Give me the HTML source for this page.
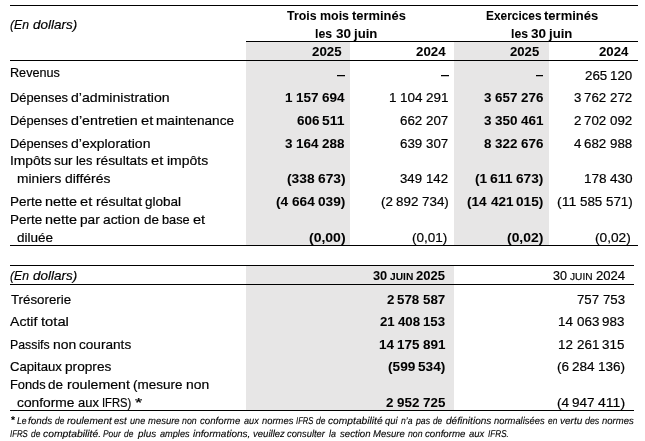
<!DOCTYPE html><html><head><meta charset="utf-8"><title>Tableau</title><style>
html,body{margin:0;padding:0;background:#fff;}
html{width:645px;height:441px;overflow:hidden;}
body{will-change:transform;}
body{width:645px;height:441px;position:relative;overflow:hidden;font-family:"Liberation Sans",sans-serif;color:#000;}
.g{position:absolute;background:#e7e6e6;}
.l{position:absolute;background:#000;height:1px;}
.t{position:absolute;white-space:pre;font-size:13.5px;line-height:16px;height:16px;transform-origin:0 50%;}
.t{-webkit-text-stroke:0.2px #000;word-spacing:-0.4px;}
.b{font-weight:bold;-webkit-text-stroke:0.05px #000}.i{font-style:italic}
#w{position:absolute;left:0;top:0;width:645px;height:441px;overflow:hidden;}
</style></head><body><div id="w">
<div class="g" style="left:246px;top:42px;width:104px;height:203px"></div>
<div class="g" style="left:454px;top:42px;width:95px;height:203px"></div>
<div class="g" style="left:246px;top:266px;width:208px;height:144px"></div>
<div class="l" style="left:10px;top:5px;width:628px"></div>
<div class="l" style="left:246px;top:41px;width:392px"></div>
<div class="l" style="left:10px;top:60px;width:628px"></div>
<div class="l" style="left:10px;top:245px;width:628px"></div>
<div class="l" style="left:10px;top:265px;width:624px"></div>
<div class="l" style="left:10px;top:284px;width:624px"></div>
<div class="l" style="left:10px;top:410px;width:624px"></div>
<div class="l" style="left:336.9px;top:75px;width:8.2px"></div><div class="l" style="left:336.9px;top:76px;width:8.2px;opacity:.25"></div>
<div class="l" style="left:440.9px;top:75px;width:8.1px"></div><div class="l" style="left:440.9px;top:76px;width:8.1px;opacity:.25"></div>
<div class="l" style="left:535.6px;top:75px;width:7.8px"></div><div class="l" style="left:535.6px;top:76px;width:7.8px;opacity:.25"></div>
<div class="t i" style="left:10.46px;top:17px;transform:scaleX(0.9028);">(En</div>
<div class="t i" style="left:32.72px;top:17px;transform:scaleX(0.9964);">dollars)</div>
<div class="t b" style="left:287.15px;top:8px;transform:scaleX(0.9165);">Trois</div>
<div class="t b" style="left:320.01px;top:8px;transform:scaleX(0.9212);">mois</div>
<div class="t b" style="left:352.33px;top:8px;transform:scaleX(0.9568);">terminés</div>
<div class="t b" style="left:315.09px;top:26px;transform:scaleX(0.9083);">les</div>
<div class="t b" style="left:335.50px;top:26px;transform:scaleX(1.0017);">30</div>
<div class="t b" style="left:353.92px;top:26px;transform:scaleX(0.9749);">juin</div>
<div class="t b" style="left:485.60px;top:8px;transform:scaleX(0.8803);">Exercices</div>
<div class="t b" style="left:544.43px;top:8px;transform:scaleX(0.9641);">terminés</div>
<div class="t b" style="left:510.59px;top:26px;transform:scaleX(0.9067);">les</div>
<div class="t b" style="left:530.97px;top:26px;">30</div>
<div class="t b" style="left:549.35px;top:26px;transform:scaleX(0.9733);">juin</div>
<div class="t b" style="left:311.54px;top:44px;transform:scaleX(0.9866);">2025</div>
<div class="t b" style="left:415.64px;top:44px;transform:scaleX(0.9831);">2024</div>
<div class="t b" style="left:510.35px;top:44px;transform:scaleX(0.9727);">2025</div>
<div class="t b" style="left:599.15px;top:44px;transform:scaleX(0.9796);">2024</div>
<div class="t" style="left:9.51px;top:65px;transform:scaleX(0.9357);">Revenus</div>
<div class="t" style="left:9.50px;top:90px;transform:scaleX(0.9537);">Dépenses</div>
<div class="t" style="left:70.81px;top:90px;transform:scaleX(1.0434);">d’administration</div>
<div class="t" style="left:9.50px;top:113px;transform:scaleX(0.9527);">Dépenses</div>
<div class="t" style="left:70.74px;top:113px;transform:scaleX(1.0578);">d’entretien</div>
<div class="t" style="left:140.76px;top:113px;transform:scaleX(1.0861);">et</div>
<div class="t" style="left:156.31px;top:113px;transform:scaleX(1.0105);">maintenance</div>
<div class="t" style="left:9.50px;top:136px;transform:scaleX(0.9530);">Dépenses</div>
<div class="t" style="left:70.76px;top:136px;transform:scaleX(1.0376);">d’exploration</div>
<div class="t" style="left:9.50px;top:153px;transform:scaleX(1.0241);">Impôts</div>
<div class="t" style="left:54.31px;top:153px;transform:scaleX(0.9886);">sur</div>
<div class="t" style="left:76.18px;top:153px;transform:scaleX(0.9497);">les</div>
<div class="t" style="left:95.89px;top:153px;transform:scaleX(1.0150);">résultats</div>
<div class="t" style="left:151.00px;top:153px;transform:scaleX(1.0837);">et</div>
<div class="t" style="left:166.52px;top:153px;transform:scaleX(1.0352);">impôts</div>
<div class="t" style="left:17.00px;top:171px;transform:scaleX(1.0181);">miniers</div>
<div class="t" style="left:64.62px;top:171px;transform:scaleX(1.0327);">différés</div>
<div class="t" style="left:9.50px;top:194px;transform:scaleX(0.9973);">Perte</div>
<div class="t" style="left:45.01px;top:194px;transform:scaleX(1.0696);">nette</div>
<div class="t" style="left:80.45px;top:194px;transform:scaleX(1.0837);">et</div>
<div class="t" style="left:95.97px;top:194px;transform:scaleX(1.0403);">résultat</div>
<div class="t" style="left:145.35px;top:194px;transform:scaleX(1.0018);">global</div>
<div class="t" style="left:9.50px;top:212px;transform:scaleX(0.9949);">Perte</div>
<div class="t" style="left:44.93px;top:212px;transform:scaleX(1.0671);">nette</div>
<div class="t" style="left:80.28px;top:212px;transform:scaleX(1.0143);">par</div>
<div class="t" style="left:103.38px;top:212px;transform:scaleX(1.0228);">action</div>
<div class="t" style="left:143.54px;top:212px;transform:scaleX(0.9956);">de</div>
<div class="t" style="left:161.81px;top:212px;transform:scaleX(0.9458);">base</div>
<div class="t" style="left:192.82px;top:212px;transform:scaleX(1.0811);">et</div>
<div class="t" style="left:17.45px;top:230px;transform:scaleX(0.9998);">diluée</div>
<div class="t" style="left:584.64px;top:68px;transform:scaleX(0.9883);">265</div>
<div class="t" style="left:610.22px;top:68px;transform:scaleX(0.9883);">120</div>
<div class="t b" style="left:285.22px;top:90px;transform:scaleX(0.9985);">1</div>
<div class="t b" style="left:296.07px;top:90px;transform:scaleX(0.9992);">157</div>
<div class="t b" style="left:321.93px;top:90px;transform:scaleX(0.9992);">694</div>
<div class="t" style="left:389.47px;top:90px;transform:scaleX(0.9975);">1</div>
<div class="t" style="left:400.31px;top:90px;transform:scaleX(0.9982);">104</div>
<div class="t" style="left:426.14px;top:90px;transform:scaleX(0.9982);">291</div>
<div class="t b" style="left:484.44px;top:90px;transform:scaleX(0.9905);">3</div>
<div class="t b" style="left:495.20px;top:90px;transform:scaleX(0.9912);">657</div>
<div class="t b" style="left:520.86px;top:90px;transform:scaleX(0.9912);">276</div>
<div class="t" style="left:573.64px;top:90px;transform:scaleX(0.9819);">3</div>
<div class="t" style="left:584.32px;top:90px;transform:scaleX(0.9825);">762</div>
<div class="t" style="left:609.74px;top:90px;transform:scaleX(0.9825);">272</div>
<div class="t b" style="left:296.64px;top:113px;transform:scaleX(0.9966);">606</div>
<div class="t b" style="left:322.43px;top:113px;transform:scaleX(1.0309);">511</div>
<div class="t" style="left:400.39px;top:113px;transform:scaleX(0.9872);">662</div>
<div class="t" style="left:425.94px;top:113px;transform:scaleX(0.9872);">207</div>
<div class="t b" style="left:484.43px;top:113px;transform:scaleX(0.9981);">3</div>
<div class="t b" style="left:495.28px;top:113px;transform:scaleX(0.9988);">350</div>
<div class="t b" style="left:521.13px;top:113px;transform:scaleX(0.9988);">461</div>
<div class="t" style="left:573.64px;top:113px;transform:scaleX(0.9870);">2</div>
<div class="t" style="left:584.37px;top:113px;transform:scaleX(0.9877);">702</div>
<div class="t" style="left:609.93px;top:113px;transform:scaleX(0.9877);">092</div>
<div class="t b" style="left:285.39px;top:136px;transform:scaleX(0.9956);">3</div>
<div class="t b" style="left:296.21px;top:136px;transform:scaleX(0.9963);">164</div>
<div class="t b" style="left:321.99px;top:136px;transform:scaleX(0.9963);">288</div>
<div class="t" style="left:400.39px;top:136px;transform:scaleX(0.9872);">639</div>
<div class="t" style="left:425.94px;top:136px;transform:scaleX(0.9872);">307</div>
<div class="t b" style="left:484.44px;top:136px;transform:scaleX(0.9905);">8</div>
<div class="t b" style="left:495.20px;top:136px;transform:scaleX(0.9912);">322</div>
<div class="t b" style="left:520.86px;top:136px;transform:scaleX(0.9912);">676</div>
<div class="t" style="left:573.64px;top:136px;transform:scaleX(0.9870);">4</div>
<div class="t" style="left:584.37px;top:136px;transform:scaleX(0.9877);">682</div>
<div class="t" style="left:609.93px;top:136px;transform:scaleX(0.9877);">988</div>
<div class="t b" style="left:286.67px;top:171px;transform:scaleX(1.0202);">(338</div>
<div class="t b" style="left:317.65px;top:171px;transform:scaleX(1.0202);">673)</div>
<div class="t" style="left:400.40px;top:171px;transform:scaleX(0.9766);">349</div>
<div class="t" style="left:425.67px;top:171px;transform:scaleX(0.9766);">142</div>
<div class="t b" style="left:474.93px;top:171px;transform:scaleX(1.0137);">(1</div>
<div class="t b" style="left:490.48px;top:171px;transform:scaleX(1.0384);">611</div>
<div class="t b" style="left:516.46px;top:171px;transform:scaleX(1.0084);">673)</div>
<div class="t" style="left:583.96px;top:171px;transform:scaleX(1.0068);">178</div>
<div class="t" style="left:610.01px;top:171px;transform:scaleX(1.0068);">430</div>
<div class="t b" style="left:276.18px;top:194px;transform:scaleX(1.0175);">(4</div>
<div class="t b" style="left:291.78px;top:194px;transform:scaleX(1.0076);">664</div>
<div class="t b" style="left:317.86px;top:194px;transform:scaleX(1.0122);">039)</div>
<div class="t" style="left:380.95px;top:194px;transform:scaleX(0.9916);">(2</div>
<div class="t" style="left:396.19px;top:194px;transform:scaleX(0.9926);">892</div>
<div class="t" style="left:421.88px;top:194px;transform:scaleX(0.9924);">734)</div>
<div class="t b" style="left:467.43px;top:194px;transform:scaleX(1.0099);">(14</div>
<div class="t b" style="left:490.50px;top:194px;transform:scaleX(1.0033);">421</div>
<div class="t b" style="left:516.47px;top:194px;transform:scaleX(1.0079);">015)</div>
<div class="t" style="left:557.45px;top:194px;transform:scaleX(1.0432);">(11</div>
<div class="t" style="left:580.08px;top:194px;transform:scaleX(0.9898);">585</div>
<div class="t" style="left:605.70px;top:194px;transform:scaleX(0.9896);">571)</div>
<div class="t b" style="left:308.66px;top:230px;transform:scaleX(1.0369);">(0,00)</div>
<div class="t" style="left:411.69px;top:230px;transform:scaleX(0.9999);">(0,01)</div>
<div class="t b" style="left:507.42px;top:230px;transform:scaleX(1.0294);">(0,02)</div>
<div class="t" style="left:595.42px;top:230px;transform:scaleX(1.0150);">(0,02)</div>
<div class="t i" style="left:10.46px;top:268px;transform:scaleX(0.9028);">(En</div>
<div class="t i" style="left:32.72px;top:268px;transform:scaleX(0.9964);">dollars)</div>
<div class="t" style="left:10.86px;top:292px;transform:scaleX(0.9837);">Trésorerie</div>
<div class="t" style="left:10.15px;top:314px;transform:scaleX(1.0419);">Actif</div>
<div class="t" style="left:40.82px;top:314px;transform:scaleX(1.0917);">total</div>
<div class="t" style="left:9.50px;top:337px;transform:scaleX(0.9122);">Passifs</div>
<div class="t" style="left:52.51px;top:337px;transform:scaleX(1.0283);">non</div>
<div class="t" style="left:79.00px;top:337px;transform:scaleX(1.0079);">courants</div>
<div class="t" style="left:9.84px;top:359px;transform:scaleX(0.9722);">Capitaux</div>
<div class="t" style="left:64.97px;top:359px;transform:scaleX(1.0117);">propres</div>
<div class="t" style="left:9.50px;top:377px;transform:scaleX(0.9501);">Fonds</div>
<div class="t" style="left:48.48px;top:377px;transform:scaleX(0.9992);">de</div>
<div class="t" style="left:66.81px;top:377px;transform:scaleX(1.0477);">roulement</div>
<div class="t" style="left:133.05px;top:377px;transform:scaleX(0.9970);">(mesure</div>
<div class="t" style="left:185.73px;top:377px;transform:scaleX(1.0283);">non</div>
<div class="t" style="left:17.05px;top:395px;transform:scaleX(1.0204);">conforme</div>
<div class="t" style="left:77.76px;top:395px;transform:scaleX(0.9587);">aux</div>
<div class="t" style="left:101.92px;top:395px;transform:scaleX(0.8313);">IFRS)</div>
<div class="t" style="left:134.51px;top:395px;transform:scaleX(1.3740);">*</div>
<div class="t b" style="left:386.64px;top:292px;transform:scaleX(0.9870);">2</div>
<div class="t b" style="left:397.37px;top:292px;transform:scaleX(0.9877);">578</div>
<div class="t b" style="left:422.93px;top:292px;transform:scaleX(0.9877);">587</div>
<div class="t" style="left:577.15px;top:292px;transform:scaleX(0.9819);">757</div>
<div class="t" style="left:602.56px;top:292px;transform:scaleX(0.9819);">753</div>
<div class="t b" style="left:379.65px;top:314px;transform:scaleX(0.9806);">21</div>
<div class="t b" style="left:397.67px;top:314px;transform:scaleX(0.9813);">408</div>
<div class="t b" style="left:423.07px;top:314px;transform:scaleX(0.9813);">153</div>
<div class="t" style="left:558.48px;top:314px;transform:scaleX(0.9907);">14</div>
<div class="t" style="left:576.69px;top:314px;transform:scaleX(0.9914);">063</div>
<div class="t" style="left:602.35px;top:314px;transform:scaleX(0.9914);">983</div>
<div class="t b" style="left:378.97px;top:337px;transform:scaleX(0.9976);">14</div>
<div class="t b" style="left:397.31px;top:337px;transform:scaleX(0.9983);">175</div>
<div class="t b" style="left:423.14px;top:337px;transform:scaleX(0.9983);">891</div>
<div class="t" style="left:558.48px;top:337px;transform:scaleX(0.9907);">12</div>
<div class="t" style="left:576.69px;top:337px;transform:scaleX(0.9914);">261</div>
<div class="t" style="left:602.35px;top:337px;transform:scaleX(0.9914);">315</div>
<div class="t b" style="left:387.78px;top:359px;transform:scaleX(1.0112);">(599</div>
<div class="t b" style="left:418.49px;top:359px;transform:scaleX(1.0112);">534)</div>
<div class="t" style="left:556.88px;top:359px;transform:scaleX(1.0030);">(6</div>
<div class="t" style="left:572.30px;top:359px;transform:scaleX(1.0040);">284</div>
<div class="t" style="left:598.28px;top:359px;transform:scaleX(1.0037);">136)</div>
<div class="t b" style="left:386.44px;top:395px;transform:scaleX(0.9905);">2</div>
<div class="t b" style="left:397.20px;top:395px;transform:scaleX(0.9912);">952</div>
<div class="t b" style="left:422.86px;top:395px;transform:scaleX(0.9912);">725</div>
<div class="t" style="left:556.88px;top:395px;transform:scaleX(1.0030);">(4</div>
<div class="t" style="left:572.30px;top:395px;transform:scaleX(1.0040);">947</div>
<div class="t" style="left:598.28px;top:395px;transform:scaleX(1.0423);">411)</div>
<div class="t b" style="left:372.66px;top:268px;transform:scaleX(0.9474);">30</div>
<div class="t b" style="left:389.95px;top:270px;font-size:10.2px;text-rendering:geometricPrecision;transform:scaleX(1.0022);">JUIN</div>
<div class="t b" style="left:415.72px;top:268px;transform:scaleX(0.9641);">2025</div>
<div class="t" style="left:552.74px;top:268px;transform:scaleX(0.9286);">30</div>
<div class="t" style="left:570.20px;top:270px;font-size:10.2px;text-rendering:geometricPrecision;transform:scaleX(0.9955);">JUIN</div>
<div class="t" style="left:595.71px;top:268px;transform:scaleX(0.9709);">2024</div>
<div class="t b" style="left:10.50px;top:413px;font-size:9.9px;-webkit-text-stroke:0.12px #000;text-rendering:geometricPrecision;transform:scaleX(1.0500);">*</div>
<div class="t i" style="left:17.38px;top:414px;font-size:9.9px;-webkit-text-stroke:0.12px #000;text-rendering:geometricPrecision;transform:scaleX(0.8762);">Le</div>
<div class="t i" style="left:28.25px;top:414px;font-size:9.9px;-webkit-text-stroke:0.12px #000;text-rendering:geometricPrecision;transform:scaleX(1.0021);">fonds</div>
<div class="t i" style="left:54.99px;top:414px;font-size:9.9px;-webkit-text-stroke:0.12px #000;text-rendering:geometricPrecision;transform:scaleX(0.8476);">de</div>
<div class="t i" style="left:67.00px;top:414px;font-size:9.9px;-webkit-text-stroke:0.12px #000;text-rendering:geometricPrecision;transform:scaleX(1.0215);">roulement</div>
<div class="t i" style="left:114.46px;top:414px;font-size:9.9px;-webkit-text-stroke:0.12px #000;text-rendering:geometricPrecision;transform:scaleX(0.9509);">est</div>
<div class="t i" style="left:129.67px;top:414px;font-size:9.9px;-webkit-text-stroke:0.12px #000;text-rendering:geometricPrecision;transform:scaleX(0.9250);">une</div>
<div class="t i" style="left:147.60px;top:414px;font-size:9.9px;-webkit-text-stroke:0.12px #000;text-rendering:geometricPrecision;transform:scaleX(0.9588);">mesure</div>
<div class="t i" style="left:182.30px;top:414px;font-size:9.9px;-webkit-text-stroke:0.12px #000;text-rendering:geometricPrecision;transform:scaleX(0.8923);">non</div>
<div class="t i" style="left:200.06px;top:414px;font-size:9.9px;-webkit-text-stroke:0.12px #000;text-rendering:geometricPrecision;transform:scaleX(0.9791);">conforme</div>
<div class="t i" style="left:243.77px;top:414px;font-size:9.9px;-webkit-text-stroke:0.12px #000;text-rendering:geometricPrecision;transform:scaleX(0.9250);">aux</div>
<div class="t i" style="left:261.70px;top:414px;font-size:9.9px;-webkit-text-stroke:0.12px #000;text-rendering:geometricPrecision;transform:scaleX(0.9527);">normes</div>
<div class="t i" style="left:295.91px;top:414px;font-size:9.9px;-webkit-text-stroke:0.12px #000;text-rendering:geometricPrecision;transform:scaleX(0.7775);">IFRS</div>
<div class="t i" style="left:316.29px;top:414px;font-size:9.9px;-webkit-text-stroke:0.12px #000;text-rendering:geometricPrecision;transform:scaleX(0.8476);">de</div>
<div class="t i" style="left:328.34px;top:414px;font-size:9.9px;-webkit-text-stroke:0.12px #000;text-rendering:geometricPrecision;transform:scaleX(1.0373);">comptabilité</div>
<div class="t i" style="left:385.46px;top:414px;font-size:9.9px;-webkit-text-stroke:0.12px #000;text-rendering:geometricPrecision;transform:scaleX(0.9509);">qui</div>
<div class="t i" style="left:401.10px;top:414px;font-size:9.9px;-webkit-text-stroke:0.12px #000;text-rendering:geometricPrecision;transform:scaleX(0.8769);">n’a</div>
<div class="t i" style="left:416.22px;top:414px;font-size:9.9px;-webkit-text-stroke:0.12px #000;text-rendering:geometricPrecision;transform:scaleX(0.8875);">pas</div>
<div class="t i" style="left:433.19px;top:414px;font-size:9.9px;-webkit-text-stroke:0.12px #000;text-rendering:geometricPrecision;transform:scaleX(0.8381);">de</div>
<div class="t i" style="left:445.74px;top:414px;font-size:9.9px;-webkit-text-stroke:0.12px #000;text-rendering:geometricPrecision;transform:scaleX(1.0205);">définitions</div>
<div class="t i" style="left:494.10px;top:414px;font-size:9.9px;-webkit-text-stroke:0.12px #000;text-rendering:geometricPrecision;transform:scaleX(0.9509);">normalisées</div>
<div class="t i" style="left:547.79px;top:414px;font-size:9.9px;-webkit-text-stroke:0.12px #000;text-rendering:geometricPrecision;transform:scaleX(0.8476);">en</div>
<div class="t i" style="left:559.89px;top:414px;font-size:9.9px;-webkit-text-stroke:0.12px #000;text-rendering:geometricPrecision;transform:scaleX(1.0118);">vertu</div>
<div class="t i" style="left:585.08px;top:414px;font-size:9.9px;-webkit-text-stroke:0.12px #000;text-rendering:geometricPrecision;transform:scaleX(0.8968);">des</div>
<div class="t i" style="left:602.10px;top:414px;font-size:9.9px;-webkit-text-stroke:0.12px #000;text-rendering:geometricPrecision;transform:scaleX(0.9649);">normes</div>
<div class="t i" style="left:10.30px;top:427px;font-size:9.9px;-webkit-text-stroke:0.12px #000;text-rendering:geometricPrecision;transform:scaleX(0.7910);">IFRS</div>
<div class="t i" style="left:30.79px;top:427px;font-size:9.9px;-webkit-text-stroke:0.12px #000;text-rendering:geometricPrecision;transform:scaleX(0.8476);">de</div>
<div class="t i" style="left:43.14px;top:427px;font-size:9.9px;-webkit-text-stroke:0.12px #000;text-rendering:geometricPrecision;transform:scaleX(1.0481);">comptabilité.</div>
<div class="t i" style="left:103.09px;top:427px;font-size:9.9px;-webkit-text-stroke:0.12px #000;text-rendering:geometricPrecision;transform:scaleX(0.8476);">Pour</div>
<div class="t i" style="left:124.39px;top:427px;font-size:9.9px;-webkit-text-stroke:0.12px #000;text-rendering:geometricPrecision;transform:scaleX(0.8476);">de</div>
<div class="t i" style="left:137.95px;top:427px;font-size:9.9px;-webkit-text-stroke:0.12px #000;text-rendering:geometricPrecision;transform:scaleX(0.9973);">plus</div>
<div class="t i" style="left:159.77px;top:427px;font-size:9.9px;-webkit-text-stroke:0.12px #000;text-rendering:geometricPrecision;transform:scaleX(0.9302);">amples</div>
<div class="t i" style="left:192.60px;top:427px;font-size:9.9px;-webkit-text-stroke:0.12px #000;text-rendering:geometricPrecision;transform:scaleX(1.0144);">informations,</div>
<div class="t i" style="left:252.52px;top:427px;font-size:9.9px;-webkit-text-stroke:0.12px #000;text-rendering:geometricPrecision;transform:scaleX(0.9674);">veuillez</div>
<div class="t i" style="left:287.46px;top:427px;font-size:9.9px;-webkit-text-stroke:0.12px #000;text-rendering:geometricPrecision;transform:scaleX(0.9466);">consulter</div>
<div class="t i" style="left:329.20px;top:427px;font-size:9.9px;-webkit-text-stroke:0.12px #000;text-rendering:geometricPrecision;transform:scaleX(0.9067);">la</div>
<div class="t i" style="left:339.50px;top:427px;font-size:9.9px;-webkit-text-stroke:0.12px #000;text-rendering:geometricPrecision;transform:scaleX(0.9774);">section</div>
<div class="t i" style="left:372.76px;top:427px;font-size:9.9px;-webkit-text-stroke:0.12px #000;text-rendering:geometricPrecision;transform:scaleX(0.9662);">Mesure</div>
<div class="t i" style="left:407.70px;top:427px;font-size:9.9px;-webkit-text-stroke:0.12px #000;text-rendering:geometricPrecision;transform:scaleX(0.8862);">non</div>
<div class="t i" style="left:425.45px;top:427px;font-size:9.9px;-webkit-text-stroke:0.12px #000;text-rendering:geometricPrecision;transform:scaleX(0.9840);">conforme</div>
<div class="t i" style="left:469.36px;top:427px;font-size:9.9px;-webkit-text-stroke:0.12px #000;text-rendering:geometricPrecision;transform:scaleX(0.9625);">aux</div>
<div class="t i" style="left:488.09px;top:427px;font-size:9.9px;-webkit-text-stroke:0.12px #000;text-rendering:geometricPrecision;transform:scaleX(0.8253);">IFRS.</div>
</div></body></html>
